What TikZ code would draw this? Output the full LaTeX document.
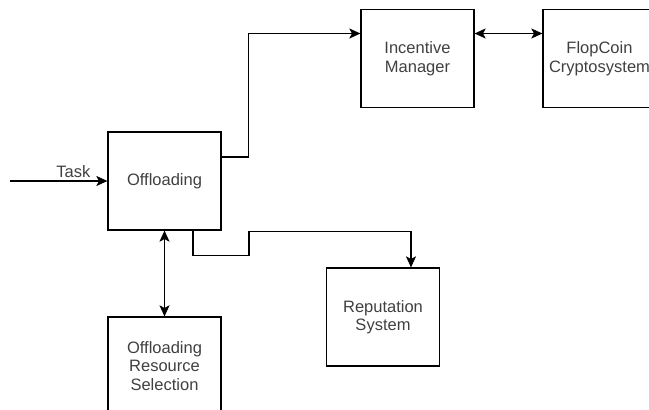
\documentclass[tikz,border=0pt]{standalone}
\usepackage{fontspec}
\setmainfont{Liberation Sans}
\usetikzlibrary{arrows.meta,calc}
\tikzset{
  blk/.style={draw,line width=1.2pt,minimum width=113pt,minimum height=98pt,align=center,inner sep=0pt,text=black!75},
  conn/.style={line width=1.2pt,>={Stealth[length=11pt,width=10pt,inset=2.5pt]}}
}
\begin{document}
\begin{tikzpicture}[x=1pt,y=-1pt,font=\fontsize{16.5}{18.5}\selectfont]
    \useasboundingbox (0,0) rectangle (649,410);
    \clip (0,0) rectangle (649,410);
    \node[blk](off) at (164.5,181) {Offloading};
    \node[blk](inc) at (417.5,58.5) {Incentive\\Manager};
    \node[blk](flop) at (599.5,58.5) {FlopCoin\\Cryptosystem};
    \node[blk](rep) at (383,317) {Reputation\\System};
    \node[blk](ors) at (164.5,366) {Offloading\\Resource\\Selection};
    \coordinate(in) at (10,181);
    \draw[conn,->] (in) -- node[above,text=black!75,pos=0.65,inner sep=3pt] {Task} (off.west);
    \draw[conn,->] ([yshift=24pt]off.east) -- ++(27,0) |- ([yshift=25pt]inc.west);
    \draw[conn,<->] ([yshift=25pt]inc.east) -- ([yshift=25pt]flop.west);
    \draw[conn,->] ([xshift=28.5pt]off.south) -- ++(0,25) -- ++(56,0) -- ++(0,-24)
      -| ([xshift=28pt]rep.north);
    \draw[conn,<->] (off.south) -- (ors.north);
  \end{tikzpicture}
\end{document}
